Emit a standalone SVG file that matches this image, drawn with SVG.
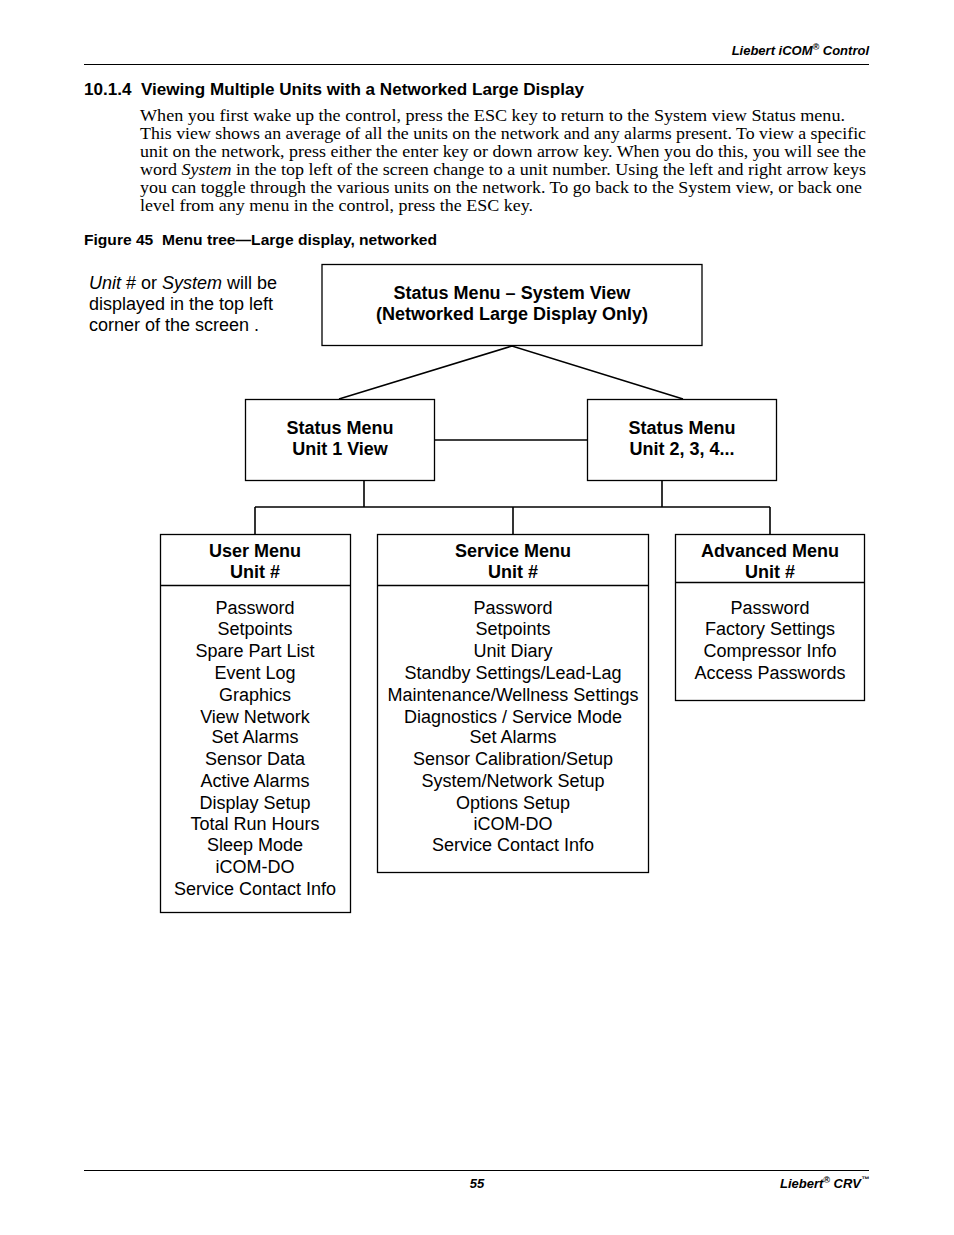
<svg xmlns="http://www.w3.org/2000/svg" width="954" height="1235" viewBox="0 0 954 1235">
<style>
.bx{fill:#fff;stroke:#000;stroke-width:1.3}
.ln{stroke:#000;stroke-width:1.6;fill:none}
.t{font-family:"Liberation Sans",Arial,sans-serif;font-size:18px;text-anchor:middle;fill:#000}
.b{font-weight:bold}
.hd{font-family:"Liberation Sans",Arial,sans-serif;font-weight:bold;font-style:italic;font-size:13px;fill:#000}
.p{font-family:"Liberation Serif","Times New Roman",serif;font-size:16.5px;fill:#000}
</style>
<rect width="954" height="1235" fill="#fff"/>
<g id="header">
<text class="hd" x="869" y="55" text-anchor="end">Liebert iCOM<tspan font-size="9" dy="-5">®</tspan><tspan dy="5"> Control</tspan></text>
<line x1="84" y1="64.5" x2="869" y2="64.5" stroke="#000" stroke-width="1"/>
</g>
<g id="text">
<text x="84" y="95" font-family="Liberation Sans,Arial,sans-serif" font-weight="bold" font-size="16" textLength="500" lengthAdjust="spacingAndGlyphs">10.1.4&#160; Viewing Multiple Units with a Networked Large Display</text>
<text class="p" x="140" y="121" textLength="705" lengthAdjust="spacingAndGlyphs">When you first wake up the control, press the ESC key to return to the System view Status menu.</text>
<text class="p" x="140" y="139" textLength="726" lengthAdjust="spacingAndGlyphs">This view shows an average of all the units on the network and any alarms present. To view a specific</text>
<text class="p" x="140" y="157" textLength="726" lengthAdjust="spacingAndGlyphs">unit on the network, press either the enter key or down arrow key. When you do this, you will see the</text>
<text class="p" x="140" y="175" textLength="726" lengthAdjust="spacingAndGlyphs">word <tspan font-style="italic">System</tspan> in the top left of the screen change to a unit number. Using the left and right arrow keys</text>
<text class="p" x="140" y="193" textLength="722" lengthAdjust="spacingAndGlyphs">you can toggle through the various units on the network. To go back to the System view, or back one</text>
<text class="p" x="140" y="211" textLength="393" lengthAdjust="spacingAndGlyphs">level from any menu in the control, press the ESC key.</text>
<text x="84" y="245" font-family="Liberation Sans,Arial,sans-serif" font-weight="bold" font-size="14" textLength="353" lengthAdjust="spacingAndGlyphs">Figure 45&#160; Menu tree—Large display, networked</text>
<g id="note" font-family="Liberation Sans,Arial,sans-serif" font-size="18">
<text x="89" y="289"><tspan font-style="italic">Unit</tspan> # or <tspan font-style="italic">System</tspan> will be</text>
<text x="89" y="310">displayed in the top left</text>
<text x="89" y="331">corner of the screen .</text>
</g>
</g>
<g id="connectors">
<polyline class="ln" points="339,399 512,346 683,399"/>
<line class="ln" x1="434" y1="440" x2="587" y2="440"/>
<line class="ln" x1="364" y1="480" x2="364" y2="507"/>
<line class="ln" x1="662" y1="480" x2="662" y2="507"/>
<line class="ln" x1="255" y1="507" x2="770" y2="507"/>
<line class="ln" x1="255" y1="507" x2="255" y2="534"/>
<line class="ln" x1="513" y1="507" x2="513" y2="534"/>
<line class="ln" x1="770" y1="507" x2="770" y2="534"/>
</g>
<g id="system-view">
<rect class="bx" x="322" y="264.5" width="380" height="81"/>
<text class="t b" x="512" y="299">Status Menu – System View</text>
<text class="t b" x="512" y="320">(Networked Large Display Only)</text>
</g>
<g id="unit1">
<rect class="bx" x="245.5" y="399.5" width="189" height="81"/>
<text class="t b" x="340" y="434">Status Menu</text>
<text class="t b" x="340" y="455">Unit 1 View</text>
</g>
<g id="unit2">
<rect class="bx" x="587.5" y="399.5" width="189" height="81"/>
<text class="t b" x="682" y="434">Status Menu</text>
<text class="t b" x="682" y="455">Unit 2, 3, 4...</text>
</g>
<g id="user-menu">
<rect class="bx" x="160.5" y="534.5" width="190" height="378"/>
<line class="ln" x1="160.5" y1="585.5" x2="350.5" y2="585.5" stroke-width="1.3"/>
<text class="t b" x="255" y="557">User Menu</text>
<text class="t b" x="255" y="578">Unit #</text>
<text class="t" x="255" y="614">Password</text>
<text class="t" x="255" y="635">Setpoints</text>
<text class="t" x="255" y="657">Spare Part List</text>
<text class="t" x="255" y="679">Event Log</text>
<text class="t" x="255" y="701">Graphics</text>
<text class="t" x="255" y="723">View Network</text>
<text class="t" x="255" y="743">Set Alarms</text>
<text class="t" x="255" y="765">Sensor Data</text>
<text class="t" x="255" y="787">Active Alarms</text>
<text class="t" x="255" y="809">Display Setup</text>
<text class="t" x="255" y="830">Total Run Hours</text>
<text class="t" x="255" y="851">Sleep Mode</text>
<text class="t" x="255" y="873">iCOM-DO</text>
<text class="t" x="255" y="895">Service Contact Info</text>
</g>
<g id="service-menu">
<rect class="bx" x="377.5" y="534.5" width="271" height="338"/>
<line class="ln" x1="377.5" y1="585.5" x2="648.5" y2="585.5" stroke-width="1.3"/>
<text class="t b" x="513" y="557">Service Menu</text>
<text class="t b" x="513" y="578">Unit #</text>
<text class="t" x="513" y="614">Password</text>
<text class="t" x="513" y="635">Setpoints</text>
<text class="t" x="513" y="657">Unit Diary</text>
<text class="t" x="513" y="679">Standby Settings/Lead-Lag</text>
<text class="t" x="513" y="701">Maintenance/Wellness Settings</text>
<text class="t" x="513" y="723">Diagnostics / Service Mode</text>
<text class="t" x="513" y="743">Set Alarms</text>
<text class="t" x="513" y="765">Sensor Calibration/Setup</text>
<text class="t" x="513" y="787">System/Network Setup</text>
<text class="t" x="513" y="809">Options Setup</text>
<text class="t" x="513" y="830">iCOM-DO</text>
<text class="t" x="513" y="851">Service Contact Info</text>
</g>
<g id="advanced-menu">
<rect class="bx" x="675.5" y="534.5" width="189" height="166"/>
<line class="ln" x1="675.5" y1="582.5" x2="864.5" y2="582.5" stroke-width="1.3"/>
<text class="t b" x="770" y="557">Advanced Menu</text>
<text class="t b" x="770" y="578">Unit #</text>
<text class="t" x="770" y="614">Password</text>
<text class="t" x="770" y="635">Factory Settings</text>
<text class="t" x="770" y="657">Compressor Info</text>
<text class="t" x="770" y="679">Access Passwords</text>
</g>
<g id="footer">
<line x1="84" y1="1170.5" x2="869" y2="1170.5" stroke="#000" stroke-width="1"/>
<text class="hd" x="477" y="1188" text-anchor="middle">55</text>
<text class="hd" x="869" y="1188" text-anchor="end">Liebert<tspan font-size="9" dy="-5">®</tspan><tspan dy="5"> CRV</tspan><tspan font-size="8" dy="-6">™</tspan></text>
</g>
</svg>
